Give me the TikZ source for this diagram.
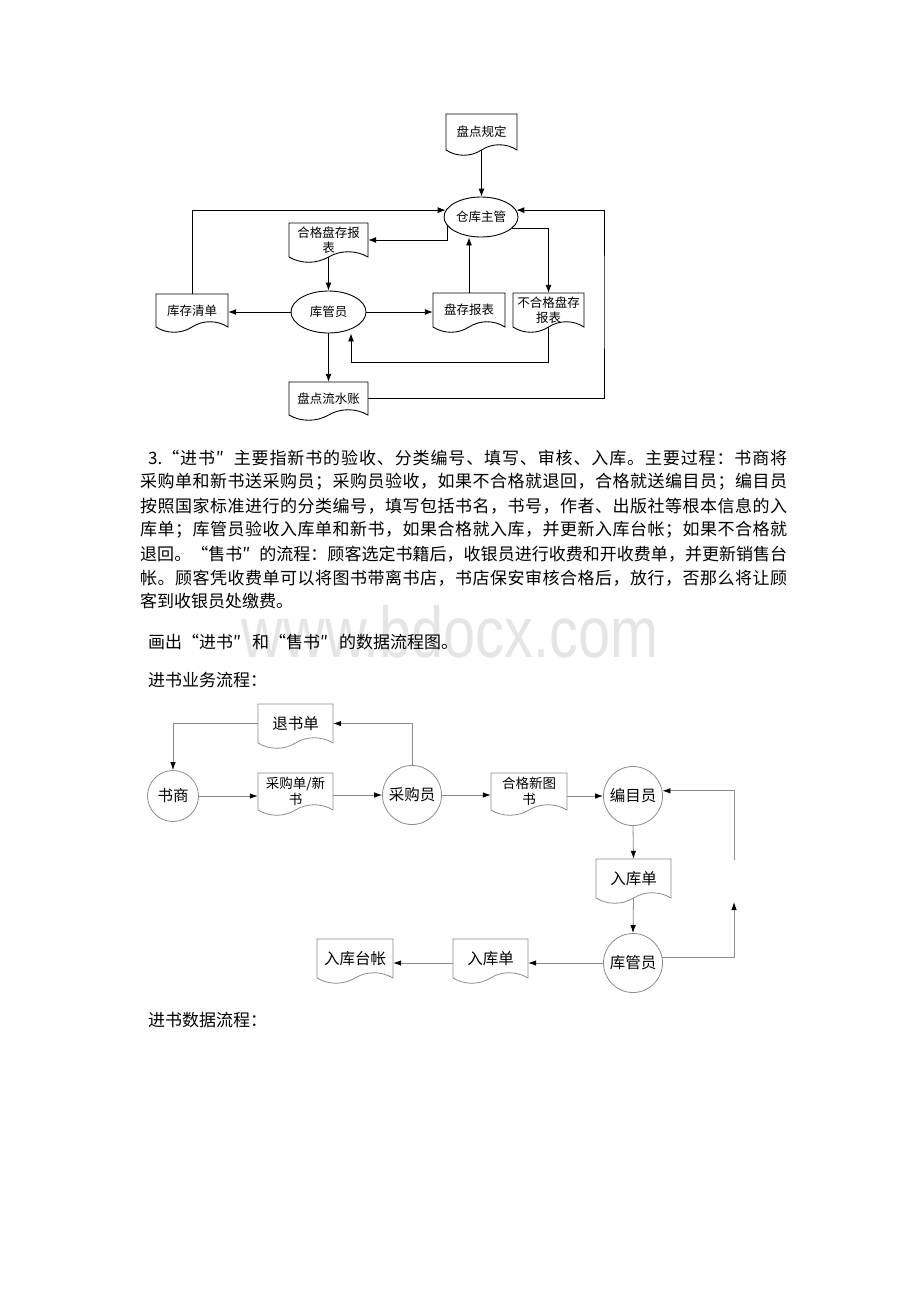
\documentclass[tikz,border=0pt]{standalone}
\usepackage{fontspec}
\setmainfont{Liberation Serif}
\newfontfamily\cjk{Noto Sans CJK SC}
\newfontfamily\wmfont{Liberation Sans}
\usetikzlibrary{arrows.meta,shapes.geometric,calc}

\ExplSyntaxOn
\NewDocumentCommand\justline{mm}{\makebox[#1][s]{\tl_map_inline:nn{#2}{##1\hfil}\unskip}}
\ExplSyntaxOff
\newcommand\myopenq{\makebox[17pt][r]{“}}
\newcommand\myprimeq{\makebox[17pt][l]{″}}

% document shape: draw style, node style, name, x0, y0, x1, yb, text
\newcommand\docbox[8]{%
  \draw[#1] (#4,#5) -- (#6,#5) -- (#6,#7)
    .. controls ({#6-0.15*(#6-#4)},{#7-7}) and ({#6-0.35*(#6-#4)},{#7-7}) .. ({(#4+#6)/2},#7)
    .. controls ({#4+0.35*(#6-#4)},{#7+7}) and ({#4+0.15*(#6-#4)},{#7+7}) .. (#4,#7) -- cycle;
  \node[#2, inner sep=0pt, minimum width={(#6-#4)*1pt}, minimum height={(#7-#5)*1pt}, align=center] (#3) at ({(#4+#6)/2},{(#5+#7)/2}) {#8};
}

\tikzset{
  tline/.style={draw=black, line width=0.9pt},
  tfont/.style={font=\cjk\fontsize{12.5}{15}\selectfont, text=black},
  tell/.style={ellipse, draw=black, line width=0.9pt, inner sep=0pt, minimum width=74pt, minimum height=40pt, tfont},
  tarr/.style={draw=black, line width=0.9pt, -{Latex[length=8pt,width=6pt]}},
  bline/.style={draw=black!45, line width=0.8pt},
  bfont/.style={font=\cjk\fontsize{15.5}{17}\selectfont, text=black},
  bsmall/.style={font=\cjk\fontsize{13.5}{16}\selectfont, text=black},
  bcirc/.style={circle, draw=black!45, line width=0.8pt, inner sep=0pt, minimum size=59pt, bfont},
  barr/.style={draw=black!45, line width=0.8pt, -{Latex[length=8pt,width=5.5pt,color=black]}},
  ptext/.style={font=\cjk\fontsize{17}{19}\selectfont, text=black, inner sep=0pt, anchor=west},
}

\begin{document}
\begin{tikzpicture}[x=1pt,y=-1pt]
\fill[white] (0,0) rectangle (920,1302);
\useasboundingbox (0,0) rectangle (920,1302);

% watermark
\node[font=\wmfont\fontsize{72}{72}\selectfont, text=black!10, xscale=0.8, anchor=base, inner sep=0pt] (wm) at (450,657) {www.bdocx.com};

% ---------------- top diagram ----------------
\docbox{tline}{tfont}{gd}{446}{114}{517}{150}{盘点规定}
\node[tell] (ck) at (481,217) {仓库主管};
\docbox{tline}{tfont}{hg}{289}{223}{368}{257}{合格盘存报\\表}
\node[tell, minimum width=75pt, minimum height=42pt] (kgy) at (328.5,312) {库管员};
\docbox{tline}{tfont}{kcqd}{156}{294}{228}{327}{库存清单}
\docbox{tline}{tfont}{pc}{433}{293}{505}{327}{盘存报表}
\docbox{tline}{tfont}{bhg}{513}{293}{584}{327}{不合格盘存\\报表}
\docbox{tline}{tfont}{pdls}{289}{382}{368}{415}{盘点流水账}

\coordinate (rc) at (604,300);
\coordinate (lp) at (351,362);
\draw[tarr] (gd.south) -- (gd.south |- ck.north);
\draw[tarr] (kcqd.north) |- (ck.169);
\draw[tarr] (pdls.east) -| (rc) |- (ck.11);
\draw[tarr] (ck.195) |- (hg.east);
\draw[tarr] (hg.south) -- (kgy.north);
\draw[tarr] (kgy.west) -- (kgy.west -| kcqd.east);
\draw[tarr] (kgy.east) -- (kgy.east -| pc.west);
\draw[tarr] (pc.north) -- (pc.north |- ck.south);
\draw[tarr] (ck.339) -| (bhg.north);
\draw[tarr] (bhg.south) |- (lp) -- (lp |- kgy.south);
\draw[tarr] (kgy.south) -- (pdls.north);

% ---------------- paragraph ----------------
\node[ptext] (p1) at (148,458) {\justline{639pt}{{3.\myopenq}进书{\myprimeq}主要指新书的验收、分类编号、填写、审核、入库。主要过程：书商将}};
\node[ptext] (p2) at (140,482) {\justline{647pt}{采购单和新书送采购员；采购员验收，如果不合格就退回，合格就送编目员；编目员}};
\node[ptext] (p3) at (140,506) {\justline{647pt}{按照国家标准进行的分类编号，填写包括书名，书号，作者、出版社等根本信息的入}};
\node[ptext] (p4) at (140,530) {\justline{647pt}{库单；库管员验收入库单和新书，如果合格就入库，并更新入库台帐；如果不合格就}};
\node[ptext] (p5) at (140,554) {\justline{647pt}{退回。{\myopenq}售书{\myprimeq}的流程：顾客选定书籍后，收银员进行收费和开收费单，并更新销售台}};
\node[ptext] (p6) at (140,578) {\justline{647pt}{帐。顾客凭收费单可以将图书带离书店，书店保安审核合格后，放行，否那么将让顾}};
\node[ptext] (p7) at (140,601) {客到收银员处缴费。};
\node[ptext] (p8) at (148,642) {画出\myopenq 进书\myprimeq\hspace{2pt}和\myopenq 售书\myprimeq\hspace{2pt}的数据流程图。};
\node[ptext] (p9) at (148,680) {进书业务流程：};
\node[ptext] (p10) at (148,1020) {进书数据流程：};

% ---------------- bottom diagram ----------------
\node[bcirc, minimum size=51pt] (ss) at (173,796) {书商};
\node[bcirc] (cgy) at (412,795) {采购员};
\node[bcirc] (bmy) at (633,796) {编目员};
\node[bcirc] (kgy2) at (633,963) {库管员};
\docbox{bline}{bfont}{tsd}{258}{704}{333}{743}{退书单}
\docbox{bline}{bsmall}{cgd}{258}{773}{333}{810}{采购单/新\\书}
\docbox{bline}{bsmall}{hgx}{491}{773}{567}{810}{合格新图\\书}
\docbox{bline}{bfont}{rkd1}{596}{859}{671}{898}{入库单}
\docbox{bline}{bfont}{rkd2}{453}{939}{528}{978}{入库单}
\docbox{bline}{bfont}{rktz}{317}{939}{393}{978}{入库台帐}

\coordinate (gapb) at (734,902);
\coordinate (gapt) at (734,860);
\draw[barr] (tsd.west) -| (ss.north);
\draw[barr] (cgy.north) |- (tsd.east);
\draw[barr] (ss.east) -- (ss.east -| cgd.west);
\draw[barr] (cgd.east |- cgy.west) -- (cgy.west);
\draw[barr] (cgy.east) -- (cgy.east -| hgx.west);
\draw[barr] (hgx.east |- bmy.west) -- (bmy.west);
\draw[barr] (bmy.south) -- (rkd1.north);
\draw[barr] (rkd1.south) -- (kgy2.north);
\draw[barr] (kgy2.west) -- (kgy2.west -| rkd2.east);
\draw[barr] (kgy2.west -| rkd2.west) -- (kgy2.west -| rktz.east);
\draw[barr] (kgy2.10) -| (gapb);
\draw[barr] (gapt) |- (bmy.10);
\end{tikzpicture}
\end{document}
